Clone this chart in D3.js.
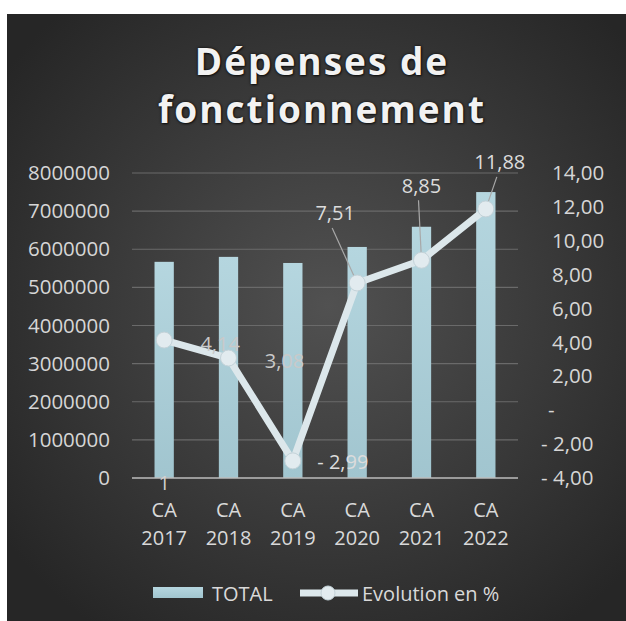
<!DOCTYPE html>
<html>
<head>
<meta charset="utf-8">
<script src="https://cdn.jsdelivr.net/npm/d3@7"></script>
<style>
  body { margin: 0; background: #fff; }
  svg { display: block; font-family: "Open Sans", sans-serif; }
  .title { text-shadow: 0 0 3px rgba(0,0,0,0.8), 1px 1px 2px rgba(0,0,0,0.6); }
</style>
</head>
<body>
<svg width="626" height="621"></svg>
<script>
// chart data
var categories = ["CA 2017", "CA 2018", "CA 2019", "CA 2020", "CA 2021", "CA 2022"];
var totals = [5670000, 5800000, 5640000, 6060000, 6590000, 7500000];
var evolution = [4.14, 3.08, -2.99, 7.51, 8.85, 11.88];
var barNotes = ["1", "", "", "", "", ""]; // stray label shown under the first bar
var leftTicks = [0, 1000000, 2000000, 3000000, 4000000, 5000000, 6000000, 7000000, 8000000];
var rightTicks = [-4, -2, 0, 2, 4, 6, 8, 10, 12, 14];
var titleLines = ["Dépenses de", "fonctionnement"];
var seriesNames = ["TOTAL", "Evolution en %"];

// where each data label sits relative to its point (dx, dy, leader line?)
var labelPlacement = [
	{dx: 56, dy: 3, leader: false},
	{dx: 56, dy: 2, leader: false},
	{dx: 50, dy: 1, leader: false},
	{dx: -22, dy: -70, leader: true},
	{dx: 0, dy: -75, leader: true},
	{dx: 14, dy: -47, leader: true}
];

var svg = d3.select("svg"),
	width = +svg.attr("width"),
	height = +svg.attr("height");

var plot = {left: 132, right: 518, top: 173, bottom: 478};

var defs = svg.append("defs");
var bg = defs.append("radialGradient").attr("id", "bg")
	.attr("cx", "52%").attr("cy", "48%").attr("r", "65%");
bg.append("stop").attr("offset", "0%").attr("stop-color", "#515151");
bg.append("stop").attr("offset", "100%").attr("stop-color", "#262626");

var barGrad = defs.append("linearGradient").attr("id", "barGrad")
	.attr("x1", 0).attr("y1", 0).attr("x2", 0).attr("y2", 1);
barGrad.append("stop").attr("offset", "0%").attr("stop-color", "#b5d6df");
barGrad.append("stop").attr("offset", "100%").attr("stop-color", "#a1c5cf");

// dark panel behind everything
svg.append("rect")
	.attr("x", 7).attr("y", 14)
	.attr("width", width - 7).attr("height", height - 14)
	.attr("fill", "url(#bg)");

var x = d3.scaleBand()
	.domain(categories)
	.range([plot.left, plot.right])
	.paddingInner(0.7)
	.paddingOuter(0.35);

var yLeft = d3.scaleLinear().domain([0, 8000000]).range([plot.bottom, plot.top]);
var yRight = d3.scaleLinear().domain([-4, 14]).range([plot.bottom, plot.top]);

function comma(v) { return d3.format(".2f")(Math.abs(v)).replace(".", ","); }
function pct(v) { return v < 0 ? "- " + comma(v) : comma(v); }
function rightFmt(v) {
	if (v === 0) return "-";
	return v < 0 ? "- " + comma(v) : comma(v);
}

// title
svg.append("g").selectAll("text")
	.data(titleLines)
	.enter().append("text")
	.attr("class", "title")
	.attr("x", 322)
	.attr("y", function(d, i) { return 75 + i * 48; })
	.attr("text-anchor", "middle")
	.attr("font-size", 37)
	.attr("font-weight", "bold")
	.attr("letter-spacing", 2)
	.attr("fill", "#f2f2f2")
	.text(function(d) { return d; });

// gridlines
svg.append("g")
	.selectAll("line")
	.data(leftTicks.slice(1))
	.enter().append("line")
	.attr("x1", plot.left).attr("x2", plot.right)
	.attr("y1", function(d) { return yLeft(d); })
	.attr("y2", function(d) { return yLeft(d); })
	.attr("stroke", "#6a6a6a")
	.attr("stroke-width", 1.2);

// left axis
var leftAxis = svg.append("g")
	.attr("transform", "translate(" + plot.left + ",0)")
	.call(d3.axisLeft(yLeft).tickValues(leftTicks).tickSize(0).tickPadding(22)
		.tickFormat(function(d) { return String(d); }));
leftAxis.select(".domain").remove();
leftAxis.selectAll("text")
	.attr("font-size", 20.5)
	.attr("font-family", "Open Sans")
	.attr("fill", "#d6d6d6");

// right axis
var rightAxis = svg.append("g")
	.attr("transform", "translate(" + plot.right + ",0)")
	.call(d3.axisRight(yRight).tickValues(rightTicks).tickSize(0).tickPadding(34)
		.tickFormat(rightFmt));
rightAxis.select(".domain").remove();
rightAxis.selectAll("text")
	.attr("font-size", 20.5)
	.attr("font-family", "Open Sans")
	.attr("fill", "#d6d6d6")
	.attr("dx", function(d) { return d < 0 ? -11 : (d === 0 ? -4 : 0); });

// bars
svg.append("g")
	.selectAll("rect")
	.data(totals)
	.enter().append("rect")
	.attr("x", function(d, i) { return x(categories[i]); })
	.attr("y", function(d) { return yLeft(d); })
	.attr("width", x.bandwidth())
	.attr("height", function(d) { return yLeft(0) - yLeft(d); })
	.attr("fill", "url(#barGrad)");

// baseline
svg.append("line")
	.attr("x1", plot.left).attr("x2", plot.right)
	.attr("y1", yLeft(0)).attr("y2", yLeft(0))
	.attr("stroke", "#bdbdbd")
	.attr("stroke-width", 1.5);

// stray note under bars
svg.append("g").selectAll("text")
	.data(barNotes)
	.enter().append("text")
	.attr("x", function(d, i) { return x(categories[i]) + x.bandwidth() / 2; })
	.attr("y", yLeft(0) + 4)
	.attr("text-anchor", "middle")
	.attr("dominant-baseline", "central")
	.attr("font-size", 20)
	.attr("fill", "#d0d0d0")
	.text(function(d) { return d; });

// x labels (two lines)
var xLab = svg.append("g").selectAll("text")
	.data(categories)
	.enter().append("text")
	.attr("text-anchor", "middle")
	.attr("font-size", 20)
	.attr("fill", "#d9d9d9");
xLab.append("tspan")
	.attr("x", function(d) { return x(d) + x.bandwidth() / 2; })
	.attr("y", 517)
	.text(function(d) { return d.split(" ")[0]; });
xLab.append("tspan")
	.attr("x", function(d) { return x(d) + x.bandwidth() / 2; })
	.attr("y", 545)
	.text(function(d) { return d.split(" ")[1]; });

// line series
var points = evolution.map(function(v, i) {
	return {
		v: v,
		x: x(categories[i]) + x.bandwidth() / 2,
		y: yRight(v),
		place: labelPlacement[i],
		i: i
	};
});

var line = d3.line()
	.x(function(d) { return d.x; })
	.y(function(d) { return d.y; });

// leader lines for labels placed away from their point
svg.append("g").selectAll("line")
	.data(points.filter(function(d) { return d.place.leader; }))
	.enter().append("line")
	.attr("x1", function(d) { return d.x; })
	.attr("y1", function(d) { return d.y; })
	.attr("x2", function(d) { return d.x + d.place.dx - 3; })
	.attr("y2", function(d) { return d.y + d.place.dy + 15; })
	.attr("stroke", "#a8a8a8")
	.attr("stroke-width", 1.2);

svg.append("path")
	.datum(points)
	.attr("d", line)
	.attr("fill", "none")
	.attr("stroke", "#dce7eb")
	.attr("stroke-width", 7)
	.attr("stroke-linejoin", "round");

svg.append("g").selectAll("circle")
	.data(points)
	.enter().append("circle")
	.attr("cx", function(d) { return d.x; })
	.attr("cy", function(d) { return d.y; })
	.attr("r", 8)
	.attr("fill", "#e2ebef")
	.attr("stroke", "#c3d2d8")
	.attr("stroke-width", 1);

// data labels
svg.append("g").selectAll("text")
	.data(points)
	.enter().append("text")
	.attr("x", function(d) { return d.x + d.place.dx; })
	.attr("y", function(d) { return d.y + d.place.dy; })
	.attr("text-anchor", "middle")
	.attr("dominant-baseline", "central")
	.attr("font-size", 20)
	.attr("fill", function(d) { return d.i < 2 ? "#c9c9c9" : "#dcdcdc"; })
	.text(function(d) { return pct(d.v); });

// legend
var legend = svg.append("g");
legend.append("rect")
	.attr("x", 153).attr("y", 587).attr("width", 50).attr("height", 11)
	.attr("fill", "url(#barGrad)");
legend.append("text")
	.attr("x", 212).attr("y", 593)
	.attr("dominant-baseline", "central")
	.attr("font-size", 20)
	.attr("fill", "#d9d9d9")
	.text(seriesNames[0]);
legend.append("line")
	.attr("x1", 300).attr("x2", 358).attr("y1", 593).attr("y2", 593)
	.attr("stroke", "#dce7eb").attr("stroke-width", 7);
legend.append("circle")
	.attr("cx", 328).attr("cy", 593).attr("r", 7)
	.attr("fill", "#e2ebef").attr("stroke", "#c3d2d8");
legend.append("text")
	.attr("x", 362).attr("y", 593)
	.attr("dominant-baseline", "central")
	.attr("font-size", 20)
	.attr("fill", "#d9d9d9")
	.text(seriesNames[1]);
</script>
</body>
</html>
